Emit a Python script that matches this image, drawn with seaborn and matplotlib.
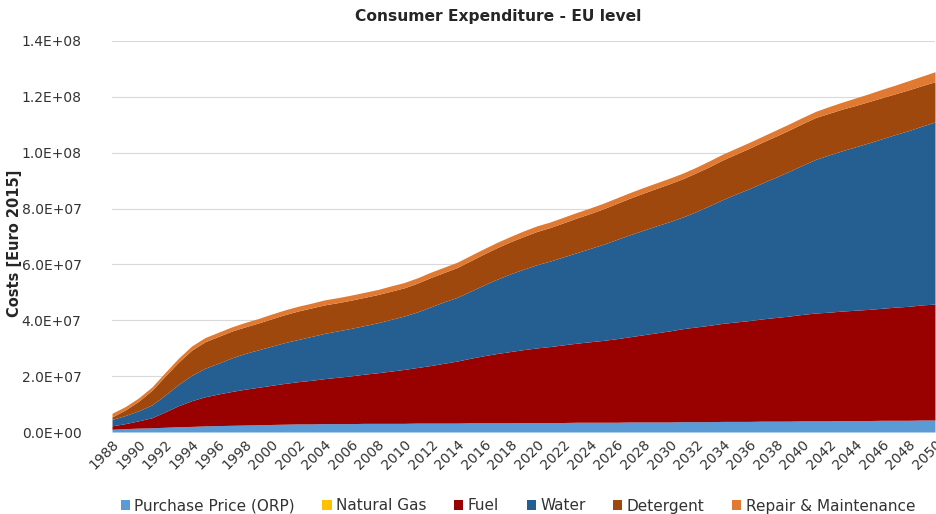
import matplotlib
matplotlib.use("Agg")
import matplotlib.pyplot as plt
from matplotlib.patches import Patch
from matplotlib.ticker import FuncFormatter, MultipleLocator
import numpy as np
import pandas as pd
import seaborn as sns

# Yearly consumer expenditure per cost component, EU level (million Euro 2015)
years = list(range(1988, 2051))

purchase_price = [
    1.0, 1.2, 1.4, 1.5, 1.7, 1.9, 2.0, 2.2, 2.3, 2.4,
    2.5, 2.6, 2.7, 2.8, 2.9, 2.9, 3.0, 3.0, 3.0, 3.1,
    3.1, 3.1, 3.1, 3.2, 3.2, 3.2, 3.2, 3.3, 3.3, 3.3,
    3.3, 3.4, 3.4, 3.4, 3.4, 3.5, 3.5, 3.5, 3.5, 3.6,
    3.6, 3.6, 3.6, 3.7, 3.7, 3.7, 3.8, 3.8, 3.8, 3.9,
    3.9, 3.9, 4.0, 4.0, 4.0, 4.1, 4.1, 4.1, 4.2, 4.2,
    4.2, 4.3, 4.3,
]
natural_gas = [0.0] * len(years)
fuel = [
    1.2, 1.8, 2.6, 3.6, 5.5, 7.5, 9.2, 10.4, 11.3, 12.1,
    12.8, 13.4, 14.0, 14.6, 15.1, 15.6, 16.1, 16.6, 17.1, 17.6,
    18.1, 18.7, 19.3, 19.9, 20.6, 21.4, 22.2, 23.1, 24.0, 24.8,
    25.5, 26.1, 26.7, 27.2, 27.8, 28.3, 28.8, 29.3, 29.9, 30.5,
    31.2, 31.9, 32.6, 33.3, 33.9, 34.5, 35.1, 35.6, 36.1, 36.6,
    37.1, 37.6, 38.1, 38.6, 38.9, 39.2, 39.5, 39.8, 40.1, 40.5,
    40.8, 41.2, 41.5,
]
water = [
    2.3, 2.9, 3.6, 4.6, 6.0, 7.6, 9.1, 10.2, 11.0, 12.0,
    12.8, 13.4, 14.0, 14.6, 15.1, 15.7, 16.2, 16.6, 17.0, 17.4,
    17.9, 18.5, 19.1, 19.9, 21.0, 22.0, 22.8, 24.0, 25.3, 26.6,
    27.8, 28.8, 29.8, 30.6, 31.5, 32.4, 33.4, 34.4, 35.5, 36.5,
    37.4, 38.3, 39.1, 40.0, 41.3, 42.8, 44.3, 45.8, 47.2, 48.7,
    50.2, 51.8, 53.4, 55.0, 56.3, 57.4, 58.5, 59.6, 60.7, 61.8,
    62.9, 64.0, 65.2,
]
detergent = [
    0.9, 2.0, 3.4, 5.2, 6.8, 8.0, 9.0, 9.5, 9.6, 9.6,
    9.5, 9.6, 9.8, 10.0, 10.2, 10.2, 10.2, 10.1, 10.1, 10.1,
    10.1, 10.1, 10.1, 10.3, 10.5, 10.5, 10.7, 10.9, 11.1, 11.3,
    11.5, 11.7, 11.9, 12.0, 12.2, 12.4, 12.5, 12.7, 12.9, 13.1,
    13.3, 13.4, 13.6, 13.7, 13.9, 14.0, 14.2, 14.3, 14.5, 14.6,
    14.7, 14.8, 14.9, 15.0, 14.9, 14.9, 14.8, 14.8, 14.7, 14.6,
    14.6, 14.5, 14.4,
]
repair = [
    1.3, 1.2, 1.2, 1.2, 1.3, 1.4, 1.5, 1.5, 1.5, 1.5,
    1.6, 1.6, 1.7, 1.7, 1.7, 1.7, 1.8, 1.8, 1.8, 1.8,
    1.8, 1.9, 1.9, 1.9, 1.9, 1.9, 1.9, 1.9, 1.9, 1.9,
    1.9, 2.0, 2.0, 2.0, 2.0, 2.0, 2.0, 2.0, 2.0, 2.0,
    2.0, 2.0, 2.0, 2.0, 2.0, 2.1, 2.1, 2.1, 2.1, 2.1,
    2.2, 2.2, 2.2, 2.2, 2.4, 2.5, 2.7, 2.8, 3.0, 3.1,
    3.3, 3.4, 3.6,
]

series_names = ["Purchase Price (ORP)", "Natural Gas", "Fuel", "Water",
                "Detergent", "Repair & Maintenance"]
series_colors = ["#5B9BD5", "#FFC000", "#990000", "#255E91", "#9E480E", "#E07A32"]

df = pd.DataFrame({
    "year": years,
    series_names[0]: purchase_price,
    series_names[1]: natural_gas,
    series_names[2]: fuel,
    series_names[3]: water,
    series_names[4]: detergent,
    series_names[5]: repair,
})

sns.set_theme(style="white")
plt.rcParams["font.family"] = ["DejaVu Sans"]

fig = plt.figure(figsize=(9.37, 5.14), dpi=100)
ax = fig.add_axes([112 / 937, 1 - 432 / 514, (935 - 112) / 937, (432 - 41) / 514])

ax.stackplot(df["year"], *[df[n] * 1e6 for n in series_names],
             colors=series_colors, linewidth=0)

ax.set_xlim(1988, 2050)
ax.set_ylim(0, 1.4e8)
ax.yaxis.set_major_locator(MultipleLocator(2e7))
ax.yaxis.set_major_formatter(FuncFormatter(
    lambda v, _: f"{v / 10**int(np.floor(np.log10(v))):.1f}E+{int(np.floor(np.log10(v))):02d}"
    if v > 0 else "0.0E+00"))
ax.set_xticks(years[::2])
ax.set_xticklabels([str(y) for y in years[::2]], rotation=45, ha="right",
                   rotation_mode="anchor", fontsize=10, color="#333333")
ax.tick_params(axis="y", labelsize=10, labelcolor="#333333", pad=22, length=0)
ax.tick_params(axis="x", pad=4, length=0)
ax.grid(axis="y", color="#D9D9D9", linewidth=0.8)
ax.set_axisbelow(True)
for s in ax.spines.values():
    s.set_visible(False)

fig.text(498 / 937, 1 - 16 / 514, "Consumer Expenditure - EU level",
         ha="center", va="center", fontsize=11.2, fontweight="bold")
fig.text(15 / 937, 1 - 243 / 514, "Costs [Euro 2015]", rotation=90,
         ha="center", va="center", fontsize=10.5, fontweight="bold")

handles = [Patch(facecolor=c, edgecolor="none") for c in series_colors]
fig.legend(handles, series_names, loc="center", bbox_to_anchor=(518 / 937, 1 - 506 / 514),
           ncol=6, frameon=False, fontsize=11, handlelength=0.6, handleheight=0.6,
           handletextpad=0.3, columnspacing=1.8, labelcolor="#333333")

fig.savefig("out.png", dpi=100)
